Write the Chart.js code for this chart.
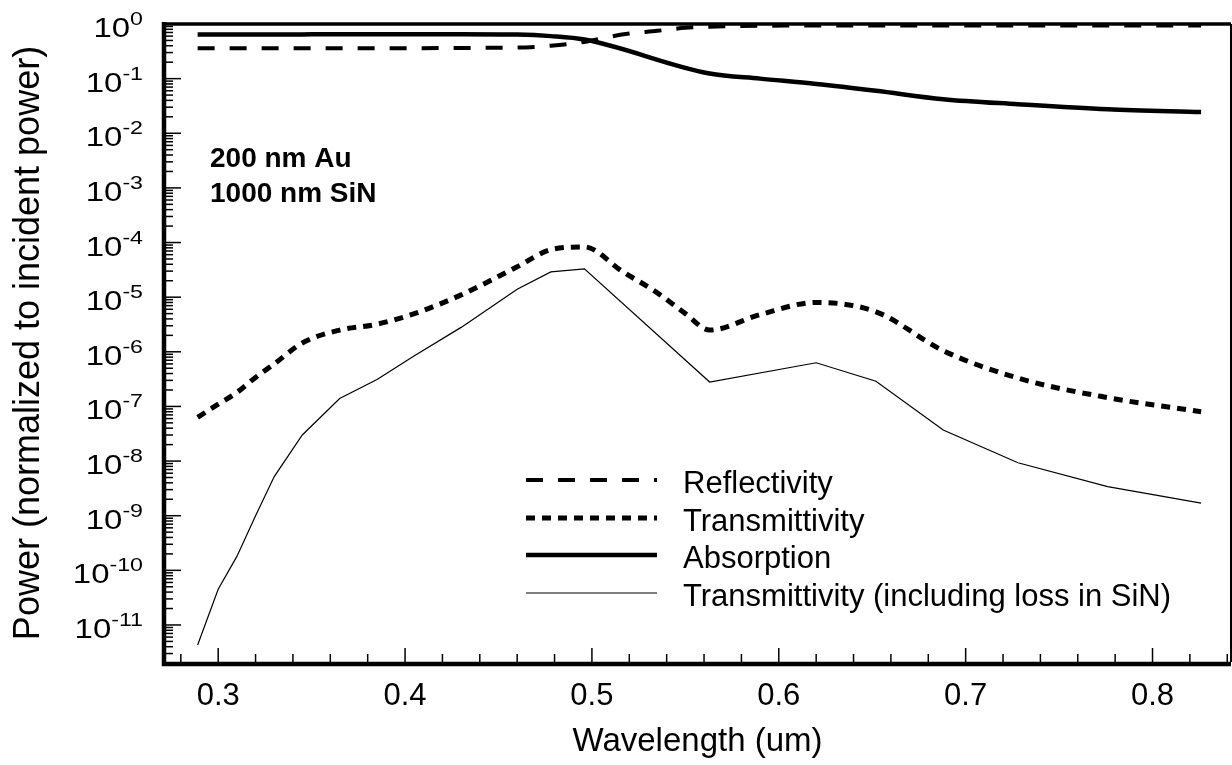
<!DOCTYPE html>
<html>
<head>
<meta charset="utf-8">
<title>Power vs wavelength</title>
<script src="https://cdn.jsdelivr.net/npm/chart.js@4.4.1/dist/chart.umd.min.js"></script>
<style>
    html, body { margin: 0; padding: 0; background: #fff; }
    #wrap { width: 1232px; height: 765px; }
</style>
</head>
<body>
<div id="wrap"><canvas id="powerChart" width="1232" height="765"></canvas></div>
<script>
// values (wavelength in um, power normalized to incident)
const wavelength = [0.289, 0.300, 0.310, 0.320, 0.330, 0.345, 0.365, 0.385, 0.405, 0.430, 0.460, 0.478,
                    0.496, 0.516, 0.535, 0.550, 0.563, 0.590, 0.620, 0.652, 0.688, 0.728, 0.776, 0.826];
const reflectivity = [0.36, 0.36, 0.36, 0.36, 0.36, 0.36, 0.36, 0.36, 0.36, 0.365, 0.37, 0.40,
                      0.47, 0.64, 0.75, 0.85, 0.89, 0.93, 0.935, 0.935, 0.94, 0.94, 0.94, 0.94];
const transmittivity = [6.3e-8, 1.1e-7, 1.8e-7, 3.4e-7, 6.0e-7, 1.45e-6, 2.5e-6, 3.2e-6, 5.0e-6, 1.1e-5, 3.6e-5, 7.4e-5,
                        8.3e-5, 3.0e-5, 1.2e-5, 5.0e-6, 2.5e-6, 4.8e-6, 8.0e-6, 5.4e-6, 1.05e-6, 3.3e-7, 1.45e-7, 8.0e-8];
const absorption = [0.64, 0.64, 0.64, 0.64, 0.64, 0.645, 0.65, 0.65, 0.65, 0.65, 0.64, 0.60,
                    0.52, null, null, null, 0.124, 0.10, 0.08, 0.06, 0.042, 0.034, 0.0275, 0.0245];
const transmittivityLoss = [4.3e-12, 4.5e-11, 1.8e-10, 1.0e-9, 5.2e-9, 3.0e-8, 1.4e-7, 3.1e-7, 8.5e-7, 2.8e-6, 1.4e-5, 2.9e-5,
                            3.3e-5, null, null, null, 2.8e-7, null, 6.3e-7, 2.9e-7, 3.7e-8, 9.3e-9, 3.4e-9, 1.7e-9];

const seriesNames = ["Reflectivity", "Transmittivity", "Absorption", "Transmittivity (including loss in SiN)"];
const xTickValues = [0.3, 0.4, 0.5, 0.6, 0.7, 0.8];
const yTickExponents = [0, -1, -2, -3, -4, -5, -6, -7, -8, -9, -10, -11];
const sampleNotes = ["200 nm Au", "1000 nm SiN"];

const FONT = '"Liberation Sans", Arial, Helvetica, sans-serif';

function toPoints(values) {
    return wavelength
        .map((x, i) => ({ x: x, y: values[i] }))
        .filter((p) => p.y !== null);
}

function stretchedText(ctx, text, x, y, font, sx) {
    ctx.save();
    ctx.font = font;
    ctx.translate(x, y);
    ctx.scale(sx, 1);
    ctx.fillText(text, 0, 0);
    ctx.restore();
}

// ticks pointing inward, heavy frame, log labels, notes and legend
const framePlugin = {
    id: "frame",
    afterDatasetsDraw(chart) {
        const { ctx, chartArea: a, scales } = chart;
        const xs = scales.x, ys = scales.y;
        ctx.save();
        ctx.strokeStyle = "#000";
        ctx.lineCap = "butt";

        ctx.lineWidth = 1.5;
        for (let e = -12; e <= 0; e++) {
            for (let m = 1; m <= 9; m++) {
                const v = m * Math.pow(10, e);
                if (v < ys.min || v > ys.max * 1.0001) continue;
                const py = ys.getPixelForValue(v);
                const len = m === 1 ? 17 : 9;
                ctx.beginPath();
                ctx.moveTo(a.left, py);
                ctx.lineTo(a.left + len, py);
                ctx.stroke();
            }
        }
        for (let k = 28; k <= 84; k += 2) {
            const px = xs.getPixelForValue(k / 100);
            const len = k % 10 === 0 ? 14 : 8;
            ctx.beginPath();
            ctx.moveTo(px, a.bottom);
            ctx.lineTo(px, a.bottom - len);
            ctx.stroke();
        }

        ctx.lineWidth = 4.5;
        ctx.beginPath();
        ctx.moveTo(a.left, a.top - 2);
        ctx.lineTo(a.left, a.bottom + 2);
        ctx.lineTo(a.right, a.bottom + 2);
        ctx.stroke();
        ctx.lineWidth = 3.5;
        ctx.beginPath();
        ctx.moveTo(a.left, a.top);
        ctx.lineTo(a.right, a.top);
        ctx.stroke();
        ctx.lineWidth = 2;
        ctx.beginPath();
        ctx.moveTo(a.right, a.top);
        ctx.lineTo(a.right, a.bottom);
        ctx.stroke();
        ctx.restore();
    },
    afterDraw(chart) {
        const { ctx, scales } = chart;
        const ys = scales.y;
        ctx.save();
        ctx.fillStyle = "#000";
        ctx.textAlign = "left";
        ctx.textBaseline = "alphabetic";

        // y labels as 10 with a raised exponent
        const baseFont = "27px " + FONT, supFont = "19px " + FONT, sx = 1.22;
        yTickExponents.forEach((e) => {
            const py = ys.getPixelForValue(Math.pow(10, e));
            const sup = e === 0 ? "0" : "-" + (-e);
            ctx.font = supFont;
            const sw = ctx.measureText(sup).width * sx;
            ctx.font = baseFont;
            const bw = ctx.measureText("10").width * sx;
            const right = 143;
            stretchedText(ctx, "10", right - sw - bw, py + 13, baseFont, sx);
            stretchedText(ctx, sup, right - sw, py + 1, supFont, sx);
        });

        ctx.font = "bold 28px " + FONT;
        ctx.fillText(sampleNotes[0], 210, 167);
        ctx.fillText(sampleNotes[1], 210, 202);

        // legend
        const rowY = [480, 518, 555, 593];
        chart.data.datasets.forEach((ds, i) => {
            ctx.save();
            ctx.strokeStyle = "#000";
            ctx.lineWidth = ds.borderWidth;
            ctx.setLineDash(ds.borderDash || []);
            ctx.beginPath();
            ctx.moveTo(526, rowY[i]);
            ctx.lineTo(657, rowY[i]);
            ctx.stroke();
            ctx.restore();
            ctx.font = "31px " + FONT;
            ctx.fillText(ds.label, 683, rowY[i] + 13);
        });
        ctx.restore();
    }
};

new Chart(document.getElementById("powerChart"), {
    type: "line",
    data: {
        datasets: [
            {
                label: seriesNames[0],
                data: toPoints(reflectivity),
                borderColor: "#000",
                borderWidth: 4,
                borderDash: [17, 15],
                cubicInterpolationMode: "monotone",
            },
            {
                label: seriesNames[1],
                data: toPoints(transmittivity),
                borderColor: "#000",
                borderWidth: 5,
                borderDash: [9, 7],
                cubicInterpolationMode: "monotone",
            },
            {
                label: seriesNames[2],
                data: toPoints(absorption),
                borderColor: "#000",
                borderWidth: 4.5,
                cubicInterpolationMode: "monotone",
            },
            {
                label: seriesNames[3],
                data: toPoints(transmittivityLoss),
                borderColor: "#000",
                borderWidth: 1.2,
                tension: 0,
            },
        ],
    },
    options: {
        responsive: false,
        devicePixelRatio: 1,
        animation: false,
        layout: { padding: { top: 24, right: 1, left: 0, bottom: 0 } },
        elements: { point: { radius: 0 }, line: { borderCapStyle: "butt" } },
        plugins: { legend: { display: false }, tooltip: { enabled: false } },
        scales: {
            x: {
                type: "linear",
                min: 0.271,
                max: 0.842,
                grid: { display: false, drawTicks: false },
                border: { display: false },
                afterBuildTicks: (scale) => {
                    scale.ticks = xTickValues.map((v) => ({ value: v }));
                },
                afterFit: (scale) => { scale.height = 103; },
                ticks: {
                    color: "#000",
                    padding: 16,
                    maxRotation: 0,
                    font: { family: FONT, size: 31 },
                    callback: (v) => v.toFixed(1),
                },
                title: {
                    display: true,
                    text: "Wavelength (um)",
                    color: "#000",
                    font: { family: FONT, size: 33 },
                    padding: { top: 0, bottom: 3 },
                },
            },
            y: {
                type: "logarithmic",
                min: 2.1e-12,
                max: 1,
                grid: { display: false, drawTicks: false },
                border: { display: false },
                ticks: { display: false },
                afterFit: (scale) => { scale.width = 164; },
                title: {
                    display: true,
                    text: "Power (normalized to incident power)",
                    color: "#000",
                    font: { family: FONT, size: 36 },
                    padding: { top: 7, bottom: 0 },
                },
            },
        },
    },
    plugins: [framePlugin],
});
</script>
</body>
</html>
